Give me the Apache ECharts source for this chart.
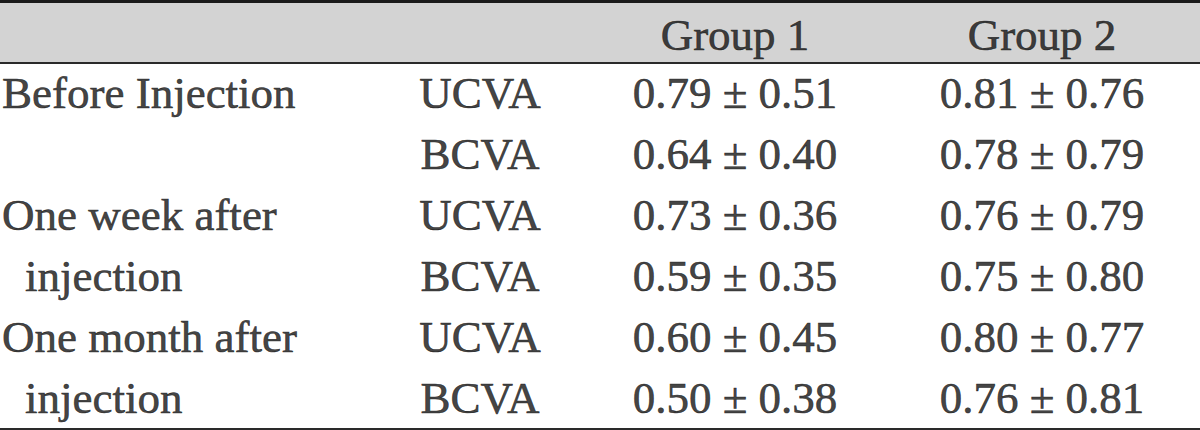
<!DOCTYPE html>
<html>
<head>
<meta charset="utf-8">
<script src="https://cdn.jsdelivr.net/npm/echarts@6/dist/echarts.min.js"></script>
<style>
html,body{margin:0;padding:0;background:#ffffff;}
#chart{width:1200px;height:430px;}
</style>
</head>
<body>
<div id="chart"></div>
<script>
// ---- data ----
const headers = ['', '', 'Group 1', 'Group 2'];
const timeLabels = ['Before Injection', '', 'One week after', 'injection', 'One month after', 'injection'];
const measures = ['UCVA', 'BCVA', 'UCVA', 'BCVA', 'UCVA', 'BCVA'];
const group1Mean = ['0.79', '0.64', '0.73', '0.59', '0.60', '0.50'];
const group1SD   = ['0.51', '0.40', '0.36', '0.35', '0.45', '0.38'];
const group2Mean = ['0.81', '0.78', '0.76', '0.75', '0.80', '0.76'];
const group2SD   = ['0.76', '0.79', '0.79', '0.80', '0.77', '0.81'];

// ---- layout (not data) ----
const colX = [2, 480, 735, 1042];
const indentX = 25;
const nRows = timeLabels.length + 1;
const textColor = '#111111';
const fontFamily = 'Liberation Serif, Times New Roman, serif';
const fontSize = 45;

const chart = echarts.init(document.getElementById('chart'), null, {renderer: 'svg'});

function labelStyle(align) {
  return {
    show: true,
    position: 'inside',
    align: align,
    verticalAlign: 'middle',
    formatter: p => p.name,
    color: textColor,
    fontFamily: fontFamily,
    fontSize: fontSize,
    textBorderColor: textColor,
    textBorderWidth: 0.6
  };
}

// header cells
const headerData = [];
headers.forEach((h, c) => { if (h) headerData.push({name: h, value: [colX[c], 0.55]}); });

// first column (left aligned); lowercase continuation lines are indented
const firstColData = timeLabels.map((t, i) => {
  const isCont = i > 0 && t && timeLabels[i - 1] && !/^[A-Z]/.test(t);
  return {name: t, value: [isCont ? indentX : colX[0], i + 1.5]};
}).filter(d => d.name);

const measureData = measures.map((m, i) => ({name: m, value: [colX[1], i + 1.5]}));
const g1Data = group1Mean.map((m, i) => ({name: m + ' \u00b1 ' + group1SD[i], value: [colX[2], i + 1.5]}));
const g2Data = group2Mean.map((m, i) => ({name: m + ' \u00b1 ' + group2SD[i], value: [colX[3], i + 1.5]}));

const option = {
  backgroundColor: '#ffffff',
  animation: false,
  grid: {left: 0, right: 0, top: 1.5, bottom: 1.7},
  xAxis: {type: 'value', min: 0, max: 1200, show: false},
  yAxis: {type: 'value', min: 0, max: nRows, inverse: true, show: false},
  series: [
    {
      type: 'scatter', data: [], z: 0, silent: true,
      markArea: {
        silent: true,
        itemStyle: {color: '#d3d3d3'},
        data: [[{yAxis: 0}, {yAxis: 1}]]
      }
    },
    {
      type: 'scatter', data: [], z: 1, silent: true,
      markLine: {
        silent: true, symbol: 'none', label: {show: false},
        data: [
          {yAxis: 0, lineStyle: {color: '#1a1a1a', width: 3, type: 'solid'}},
          {yAxis: 1, lineStyle: {color: '#2a2a2a', width: 2, type: 'solid'}},
          {yAxis: nRows, lineStyle: {color: '#2a2a2a', width: 2, type: 'solid'}}
        ]
      }
    },
    {type: 'scatter', symbolSize: 0, z: 5, silent: true, data: headerData, label: labelStyle('center')},
    {type: 'scatter', symbolSize: 0, z: 5, silent: true, data: firstColData, label: labelStyle('left')},
    {type: 'scatter', symbolSize: 0, z: 5, silent: true, data: measureData, label: labelStyle('center')},
    {type: 'scatter', symbolSize: 0, z: 5, silent: true, data: g1Data, label: labelStyle('center')},
    {type: 'scatter', symbolSize: 0, z: 5, silent: true, data: g2Data, label: labelStyle('center')}
  ]
};
chart.setOption(option);
</script>
</body>
</html>
